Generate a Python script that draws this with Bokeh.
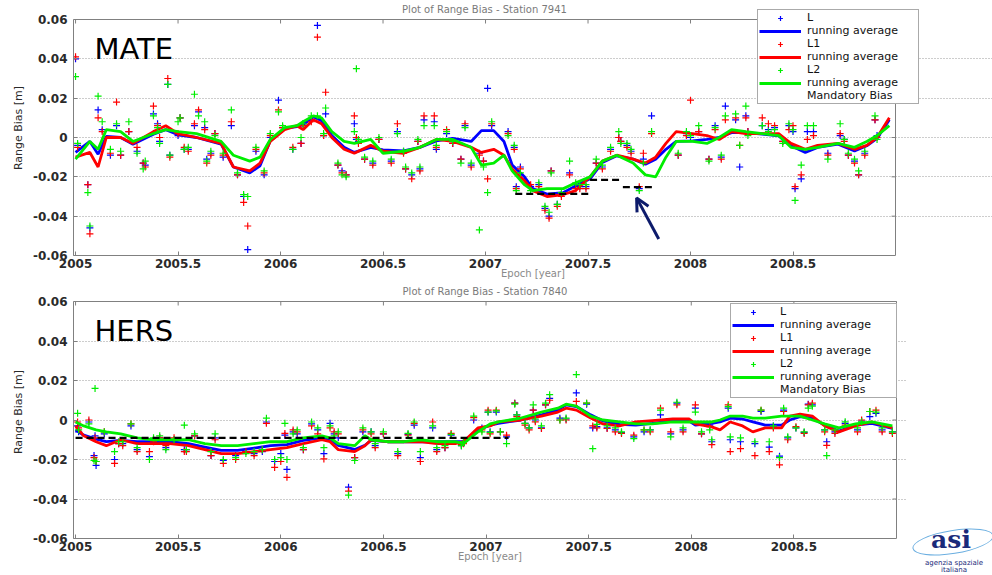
import math
from bokeh.plotting import figure
from bokeh.models import (Range1d, LinearAxis, FixedTicker, Legend, LegendItem, Label,
                          Arrow, OpenHead, CustomJSTickFormatter, Div)
from bokeh.layouts import column, row
from bokeh.embed import file_html
from bokeh.resources import INLINE

# ---------------- DATA ----------------
x_ticks = [2005, 2005.5, 2006, 2006.5, 2007, 2007.5, 2008, 2008.5]
y_ticks = [-0.06, -0.04, -0.02, 0, 0.02, 0.04, 0.06]

# Station 7941 (MATE) normal points
top_years = [2005.00, 2005.01, 2005.06, 2005.07, 2005.11, 2005.13, 2005.17, 2005.20, 2005.22, 2005.26,
             2005.30, 2005.33, 2005.34, 2005.38, 2005.40, 2005.41, 2005.45, 2005.46, 2005.50, 2005.51,
             2005.53, 2005.55, 2005.58, 2005.60, 2005.63, 2005.64, 2005.66, 2005.68, 2005.72, 2005.76,
             2005.79, 2005.82, 2005.84, 2005.88, 2005.92, 2005.95, 2005.99, 2006.01, 2006.06, 2006.10,
             2006.11, 2006.15, 2006.18, 2006.21, 2006.22, 2006.28, 2006.30, 2006.32, 2006.36, 2006.37,
             2006.38, 2006.41, 2006.45, 2006.48, 2006.54, 2006.57, 2006.60, 2006.61, 2006.64, 2006.67,
             2006.68, 2006.70, 2006.75, 2006.76, 2006.81, 2006.84, 2006.88, 2006.90, 2006.93, 2006.97,
             2006.99, 2007.01, 2007.03, 2007.11, 2007.14, 2007.15, 2007.17, 2007.22, 2007.26, 2007.29,
             2007.31, 2007.32, 2007.35, 2007.37, 2007.41, 2007.44, 2007.46, 2007.49, 2007.54, 2007.57,
             2007.61, 2007.65, 2007.66, 2007.69, 2007.71, 2007.75, 2007.77, 2007.81, 2007.94, 2007.98,
             2008.00, 2008.04, 2008.09, 2008.12, 2008.15, 2008.17, 2008.22, 2008.24, 2008.27, 2008.28,
             2008.35, 2008.38, 2008.41, 2008.45, 2008.48, 2008.50, 2008.51, 2008.54, 2008.57, 2008.60,
             2008.67, 2008.73, 2008.75, 2008.77, 2008.80, 2008.82, 2008.85, 2008.90, 2008.91]
top_L = [0.040, -0.004, -0.024, -0.046, 0.014, 0.004, -0.009, 0.006, -0.009, 0.003,
         -0.007, -0.013, -0.014, 0.012, 0.007, -0.002, 0.027, -0.009, 0.001, 0.010,
         -0.006, -0.006, 0.006, 0.013, 0.005, -0.011, -0.008, 0.002, -0.010, 0.006,
         -0.019, -0.030, -0.057, -0.007, -0.019, 0.000, 0.019, 0.005, -0.006, -0.003,
         0.007, 0.009, 0.057, 0.001, 0.012, -0.014, -0.017, -0.019, 0.007, -0.001,
         -0.002, -0.011, -0.013, -0.001, -0.012, 0.003, -0.007, -0.016, -0.019, -0.002,
         -0.016, 0.009, 0.008, -0.006, 0.002, -0.003, -0.011, 0.006, -0.014, -0.008,
         -0.012, 0.025, 0.006, 0.003, -0.005, -0.025, -0.015, -0.025, -0.024, -0.036,
         -0.040, -0.017, -0.034, -0.029, -0.018, -0.024, -0.025, -0.025, -0.013, -0.015,
         -0.006, 0.000, -0.002, -0.004, -0.007, -0.026, -0.011, 0.011, -0.009, 0.002,
         0.000, 0.003, -0.011, 0.006, -0.010, 0.016, 0.009, -0.015, 0.011, 0.003,
         0.006, 0.004, 0.005, -0.002, 0.006, 0.003, -0.026, -0.021, 0.003, 0.003,
         -0.008, 0.001, -0.001, -0.009, -0.012, -0.019, -0.008, 0.009, 0.001]
top_L1 = [0.041, -0.005, -0.024, -0.049, 0.010, 0.003, -0.008, 0.018, -0.009, 0.003,
          -0.005, -0.013, -0.015, 0.016, 0.006, 0.000, 0.030, -0.010, 0.002, 0.010,
          -0.005, -0.007, 0.007, 0.014, 0.004, -0.013, -0.009, 0.002, -0.009, 0.008,
          -0.019, -0.033, -0.045, -0.006, -0.018, 0.001, 0.014, 0.005, -0.005, -0.003,
          0.006, 0.008, 0.051, 0.001, 0.023, -0.014, -0.018, -0.019, 0.011, 0.000,
          -0.003, -0.011, -0.014, -0.001, -0.013, 0.007, -0.008, -0.016, -0.021, -0.002,
          -0.017, 0.011, 0.011, -0.005, 0.004, -0.003, -0.011, 0.007, -0.015, -0.009,
          -0.012, -0.021, 0.007, 0.002, -0.006, -0.026, -0.016, -0.024, -0.025, -0.037,
          -0.041, -0.017, -0.035, -0.030, -0.019, -0.026, -0.026, -0.026, -0.013, -0.016,
          -0.007, 0.000, -0.002, -0.005, -0.008, -0.025, -0.008, 0.002, -0.009, 0.001,
          0.019, 0.003, -0.011, 0.004, -0.011, 0.009, 0.010, -0.004, 0.010, 0.003,
          0.010, 0.007, 0.006, -0.002, 0.004, 0.006, -0.025, -0.019, -0.001, 0.001,
          -0.009, 0.002, -0.002, -0.009, -0.013, -0.019, -0.009, 0.009, 0.000]
top_L2 = [0.031, -0.003, -0.028, -0.045, 0.021, 0.008, -0.006, 0.007, -0.007, 0.008,
          -0.008, -0.016, -0.012, 0.011, 0.005, -0.003, 0.027, -0.009, 0.008, 0.010,
          -0.006, -0.005, 0.022, 0.011, 0.008, -0.012, -0.007, 0.001, -0.008, 0.014,
          -0.018, -0.029, -0.030, -0.005, -0.017, 0.002, 0.013, 0.006, -0.006, 0.000,
          0.007, 0.011, 0.011, 0.002, 0.015, -0.013, -0.019, -0.020, 0.003, 0.035,
          -0.001, -0.010, -0.012, 0.000, -0.011, 0.002, -0.007, -0.015, -0.018, -0.001,
          -0.015, 0.006, 0.006, -0.004, 0.003, -0.002, -0.013, 0.005, -0.013, -0.047,
          -0.015, -0.028, 0.008, 0.001, -0.004, -0.027, -0.018, -0.027, -0.023, -0.035,
          -0.038, -0.018, -0.034, -0.028, -0.012, -0.023, -0.024, -0.024, -0.011, -0.014,
          -0.005, 0.003, -0.003, -0.003, -0.006, -0.027, -0.013, 0.003, -0.008, 0.003,
          0.001, 0.006, -0.012, 0.005, -0.009, 0.011, 0.012, -0.004, 0.016, 0.001,
          0.006, 0.003, 0.004, -0.003, 0.007, 0.004, -0.032, -0.014, 0.006, 0.006,
          -0.011, 0.007, -0.001, -0.008, -0.011, -0.017, -0.007, 0.011, -0.001]

top_ra_years = [2005.00, 2005.07, 2005.11, 2005.15, 2005.22, 2005.28, 2005.38, 2005.44, 2005.50, 2005.59,
                2005.71, 2005.77, 2005.85, 2005.90, 2005.95, 2006.02, 2006.08, 2006.11, 2006.16, 2006.20,
                2006.25, 2006.31, 2006.36, 2006.44, 2006.50, 2006.60, 2006.68, 2006.76, 2006.84, 2006.93,
                2006.98, 2007.04, 2007.09, 2007.13, 2007.19, 2007.23, 2007.30, 2007.38, 2007.44, 2007.51,
                2007.57, 2007.64, 2007.72, 2007.78, 2007.83, 2007.88, 2007.93, 2008.01, 2008.08, 2008.14,
                2008.20, 2008.27, 2008.35, 2008.43, 2008.49, 2008.56, 2008.62, 2008.72, 2008.80, 2008.86,
                2008.91, 2008.97]
top_ra_L = [-0.0076, -0.002, -0.0085, 0.0005, 0.0, -0.0034, 0.0017, 0.004, 0.0014, 0.0,
            -0.0034, -0.015, -0.018, -0.0144, -0.0017, 0.0046, 0.0055, 0.0065, 0.0105, 0.0085,
            0.001, -0.005, -0.0076, -0.005, -0.0063, -0.0068, -0.005, -0.0017, -0.0005, -0.002,
            0.0035, 0.0035, -0.002, -0.014, -0.020, -0.026, -0.0288, -0.028, -0.0246, -0.021,
            -0.0127, -0.0093, -0.011, -0.0136, -0.011, -0.006, -0.002, -0.0017, -0.001, 0.0,
            0.0025, 0.0025, 0.0017, 0.0008, -0.0042, -0.0076, -0.005, -0.0034, -0.0068, -0.0042,
            -0.0005, 0.009]
top_ra_L1 = [-0.010, -0.0076, -0.015, 0.0, 0.0, -0.003, 0.003, 0.006, 0.002, 0.0,
             -0.003, -0.015, -0.017, -0.013, -0.002, 0.004, 0.006, 0.004, 0.009, 0.007,
             0.0, -0.006, -0.008, -0.004, -0.007, -0.008, -0.005, -0.001, -0.002, -0.005,
             -0.0076, -0.006, -0.009, -0.016, -0.022, -0.027, -0.030, -0.029, -0.027, -0.020,
             -0.012, -0.009, -0.011, -0.013, -0.010, -0.003, 0.003, 0.002, 0.001, -0.001,
             0.003, 0.002, 0.002, 0.002, -0.003, -0.006, -0.004, -0.003, -0.006, -0.004,
             0.0, 0.010]
top_ra_L2 = [-0.011, -0.002, -0.006, 0.004, 0.003, -0.002, 0.002, 0.004, 0.003, 0.002,
             -0.002, -0.009, -0.012, -0.010, -0.001, 0.005, 0.006, 0.008, 0.011, 0.010,
             0.003, -0.002, -0.003, -0.001, -0.008, -0.007, -0.005, -0.001, -0.001, -0.005,
             -0.014, -0.013, -0.009, -0.017, -0.024, -0.027, -0.026, -0.026, -0.023, -0.020,
             -0.012, -0.009, -0.013, -0.019, -0.020, -0.010, -0.002, -0.002, -0.003, 0.0,
             0.004, 0.003, 0.002, 0.001, -0.005, -0.006, -0.005, -0.003, -0.005, -0.002,
             0.001, 0.006]
top_bias_start = [2007.145, 2007.51, 2007.67]
top_bias_end = [2007.51, 2007.66, 2007.82]
top_bias_value = [-0.0287, -0.0215, -0.0252]

# Station 7840 (HERS) normal points
bot_years = [2005.01, 2005.015, 2005.065, 2005.09, 2005.095, 2005.10, 2005.14, 2005.19, 2005.21, 2005.23,
             2005.27, 2005.30, 2005.36, 2005.38, 2005.41, 2005.44, 2005.48, 2005.53, 2005.54, 2005.58,
             2005.66, 2005.68, 2005.72, 2005.78, 2005.83, 2005.87, 2005.91, 2005.93, 2005.97, 2006.00,
             2006.02, 2006.03, 2006.06, 2006.08, 2006.11, 2006.15, 2006.18, 2006.21, 2006.24, 2006.26,
             2006.28, 2006.33, 2006.36, 2006.40, 2006.44, 2006.46, 2006.50, 2006.57, 2006.62, 2006.65,
             2006.68, 2006.74, 2006.76, 2006.80, 2006.83, 2006.88, 2006.89, 2006.94, 2006.98, 2007.01,
             2007.02, 2007.05, 2007.07, 2007.10, 2007.14, 2007.15, 2007.19, 2007.21, 2007.23, 2007.24,
             2007.27, 2007.29, 2007.31, 2007.36, 2007.39, 2007.44, 2007.49, 2007.52, 2007.54, 2007.59,
             2007.63, 2007.66, 2007.72, 2007.77, 2007.80, 2007.85, 2007.90, 2007.93, 2007.96, 2008.02,
             2008.05, 2008.09, 2008.10, 2008.18, 2008.19, 2008.24, 2008.31, 2008.34, 2008.38, 2008.40,
             2008.43, 2008.45, 2008.47, 2008.51, 2008.55, 2008.57, 2008.59, 2008.65, 2008.66, 2008.70,
             2008.75, 2008.81, 2008.83, 2008.87, 2008.90, 2008.93, 2008.98]
bot_L = [-0.003, -0.006, -0.001, -0.018, -0.008, -0.023, -0.007, -0.020, -0.012, -0.012,
         -0.003, -0.015, -0.0185, -0.010, -0.009, -0.014, -0.010, -0.015, -0.015, -0.008,
         -0.018, -0.009, -0.0205, -0.018, -0.016, -0.017, -0.016, -0.001, -0.021, -0.017,
         -0.0077, -0.025, -0.006, -0.007, -0.015, -0.002, -0.005, -0.017, -0.0017, -0.007,
         -0.009, -0.034, -0.019, -0.006, -0.006, -0.013, -0.007, -0.017, -0.0073, -0.0026,
         -0.019, -0.004, -0.015, -0.014, -0.0077, -0.013, -0.011, 0.000, -0.004, 0.004,
         -0.006, 0.004, -0.006, -0.0085, 0.0085, 0.0026, -0.0017, -0.004, 0.005, 0.000,
         -0.004, 0.0077, 0.011, 0.0009, 0.0005, 0.0137, 0.008, -0.004, -0.0034, -0.004,
         -0.005, -0.0064, -0.0085, -0.006, -0.005, 0.0026, -0.007, 0.0085, -0.005, 0.006,
         -0.007, -0.0026, -0.011, 0.006, -0.010, -0.011, -0.012, 0.0043, -0.0137, -0.003,
         -0.0183, 0.005, -0.009, -0.004, -0.0063, 0.008, 0.0077, -0.005, -0.011, -0.006,
         -0.0017, -0.005, -0.0005, 0.0017, 0.0034, -0.005, -0.006]
bot_L1 = [-0.001, -0.004, 0.000, -0.019, -0.009, -0.021, -0.006, -0.022, -0.012, -0.013,
          -0.002, -0.016, -0.016, -0.011, -0.009, -0.013, -0.009, -0.016, -0.016, -0.008,
          -0.018, -0.010, -0.022, -0.020, -0.016, -0.018, -0.015, -0.0017, -0.024, -0.021,
          -0.0068, -0.029, -0.005, -0.006, -0.015, -0.003, -0.007, -0.0197, -0.004, -0.006,
          -0.007, -0.036, -0.019, -0.005, -0.007, -0.014, -0.007, -0.018, -0.0077, -0.0017,
          -0.021, -0.001, -0.016, -0.014, -0.0068, -0.0125, -0.012, 0.0012, -0.005, 0.005,
          -0.007, 0.005, -0.006, -0.0077, 0.0085, 0.0017, -0.0026, -0.005, 0.005, -0.0009,
          -0.0043, 0.0077, 0.010, 0.000, 0.000, 0.0094, 0.0085, -0.003, -0.004, -0.0043,
          -0.006, -0.0068, -0.0077, -0.005, -0.006, 0.006, -0.006, 0.0077, -0.006, 0.0077,
          -0.007, -0.0034, -0.0125, 0.0077, -0.016, -0.0145, -0.018, 0.005, -0.016, -0.004,
          -0.0227, 0.0043, -0.010, -0.0034, -0.0068, 0.0077, 0.0085, -0.006, -0.0128, -0.0068,
          -0.0026, -0.006, 0.000, 0.0043, 0.005, -0.006, -0.0068]
bot_L2 = [0.0034, -0.005, -0.002, -0.0205, 0.016, -0.021, -0.006, -0.016, -0.011, -0.011,
          -0.002, -0.014, -0.020, -0.009, -0.008, -0.015, -0.010, -0.0026, -0.015, -0.007,
          -0.016, -0.007, -0.020, -0.019, -0.017, -0.016, -0.015, 0.0009, -0.020, -0.019,
          -0.0017, -0.020, -0.007, -0.005, -0.014, -0.001, -0.004, -0.014, -0.003, -0.008,
          -0.006, -0.038, -0.0205, -0.004, -0.006, -0.012, -0.006, -0.016, -0.0068, -0.001,
          -0.016, -0.003, -0.014, -0.013, -0.0073, -0.013, -0.011, 0.002, -0.006, 0.004,
          -0.0063, 0.0046, -0.006, -0.012, 0.008, 0.0026, -0.0017, -0.004, 0.0077, 0.0005,
          -0.003, 0.0085, 0.0128, 0.000, 0.001, 0.023, 0.0085, -0.0145, -0.0022, -0.003,
          -0.004, -0.006, -0.0094, -0.005, -0.005, 0.005, -0.0085, 0.009, -0.004, 0.004,
          -0.006, -0.005, -0.010, 0.0068, -0.0085, -0.009, -0.011, 0.005, -0.011, -0.003,
          -0.019, 0.006, -0.0085, -0.004, -0.006, 0.006, 0.007, -0.005, -0.018, -0.005,
          -0.0009, -0.004, -0.0009, 0.0043, 0.004, -0.004, -0.006]

bot_ra_years = [2005.00, 2005.04, 2005.10, 2005.15, 2005.22, 2005.30, 2005.38, 2005.46, 2005.55, 2005.63,
                2005.71, 2005.79, 2005.87, 2005.95, 2006.03, 2006.11, 2006.20, 2006.24, 2006.28, 2006.36,
                2006.41, 2006.44, 2006.52, 2006.60, 2006.68, 2006.76, 2006.85, 2006.89, 2006.96, 2007.02,
                2007.06, 2007.17, 2007.27, 2007.35, 2007.39, 2007.44, 2007.51, 2007.57, 2007.65, 2007.73,
                2007.81, 2007.91, 2007.99, 2008.02, 2008.10, 2008.14, 2008.19, 2008.25, 2008.30, 2008.36,
                2008.44, 2008.48, 2008.53, 2008.59, 2008.65, 2008.72, 2008.80, 2008.88, 2008.98]
bot_ra_L = [-0.005, -0.0077, -0.0097, -0.011, -0.0103, -0.011, -0.011, -0.011, -0.012, -0.0137,
            -0.0154, -0.0154, -0.0142, -0.013, -0.0125, -0.0103, -0.009, -0.0097, -0.0128, -0.0149,
            -0.0128, -0.0103, -0.011, -0.011, -0.011, -0.011, -0.011, -0.011, -0.005, -0.0026,
            -0.0017, 0.0, 0.0026, 0.005, 0.0077, 0.0068, 0.0026, -0.0005, -0.0022, -0.0026,
            -0.0017, -0.0005, -0.0005, -0.0026, -0.0017, -0.001, 0.0009, 0.0005, -0.0009, -0.0026,
            -0.0026, 0.0, 0.0017, 0.0009, -0.0026, -0.0056, -0.0026, -0.0017, -0.0043]
bot_ra_L1 = [-0.003, -0.008, -0.011, -0.013, -0.010, -0.012, -0.012, -0.012, -0.013, -0.015,
             -0.017, -0.017, -0.016, -0.015, -0.014, -0.012, -0.010, -0.011, -0.015, -0.016,
             -0.013, -0.010, -0.011, -0.011, -0.011, -0.012, -0.012, -0.011, -0.004, -0.003,
             -0.001, 0.000, 0.002, 0.004, 0.006, 0.005, 0.001, -0.002, -0.003, -0.001,
             -0.0003, 0.0005, 0.0005, -0.002, -0.0035, -0.005, -0.001, -0.003, -0.006, -0.004,
             -0.004, 0.002, 0.003, 0.002, -0.003, -0.006, -0.003, -0.001, -0.004]
bot_ra_L2 = [-0.001, -0.003, -0.005, -0.006, -0.007, -0.009, -0.010, -0.010, -0.010, -0.012,
             -0.013, -0.013, -0.012, -0.011, -0.011, -0.009, -0.008, -0.009, -0.012, -0.013,
             -0.008, -0.010, -0.011, -0.011, -0.010, -0.011, -0.011, -0.012, -0.006, -0.002,
             -0.001, 0.001, 0.004, 0.006, 0.008, 0.007, 0.002, 0.000, -0.001, -0.002,
             -0.002, -0.001, -0.001, -0.001, -0.001, 0.000, 0.002, 0.002, 0.001, 0.001,
             0.002, 0.002, 0.002, 0.000, -0.002, -0.004, -0.002, -0.001, -0.003]
bot_bias_start = [2005.0]
bot_bias_end = [2007.11]
bot_bias_value = [-0.009]

series_labels = ["L", "running average", "L1", "running average", "L2", "running average", "Mandatory Bias"]
titles = ["Plot of Range Bias - Station 7941", "Plot of Range Bias - Station 7840"]
station_names = ["MATE", "HERS"]
logo_lines = ["asi", "agenzia spaziale", "italiana"]

# ---------------- STYLE ----------------
BLUE, RED, GREEN = "#0000ff", "#ff0000", "#00ee00"
BOX = "#808080"
X0, X1 = 2004.99, 2009.0
Y0, Y1 = -0.06, 0.06


def style_axis(ax):
    ax.major_tick_in = 4
    ax.major_tick_out = 0
    ax.minor_tick_line_color = None
    ax.axis_line_color = BOX
    ax.major_tick_line_color = BOX
    ax.major_label_text_font = "DejaVu Sans"
    ax.major_label_text_font_style = "bold"
    ax.major_label_text_font_size = "12px"
    ax.major_label_text_color = "#2a2a2a"
    ax.axis_label_text_font = "DejaVu Sans"
    ax.axis_label_text_font_style = "normal"


def make_panel(name, title, years, L, L1, L2, ra_years, raL, raL1, raL2,
               b_start, b_end, b_val, width, height, border_bottom,
               box_w, box_h, ext_top, ext_right, legend_loc, legend_dash, legend_label_w):
    # the frame reaches past the plot box (top/right) so the legend may overlap the box edge
    xr = Range1d(X0, X1 + ext_right * (X1 - X0) / box_w)
    yr = Range1d(Y0, Y1 + ext_top * (Y1 - Y0) / box_h)
    p = figure(width=width, height=height, output_backend="svg", toolbar_location=None,
               title=None, x_range=xr, y_range=yr,
               min_border_left=73, min_border_right=0, min_border_top=0,
               min_border_bottom=border_bottom, x_axis_location=None, y_axis_location=None)
    p.background_fill_color = "white"
    p.border_fill_color = "white"
    p.outline_line_color = None

    xfmt = CustomJSTickFormatter(code="return (Math.abs(tick - Math.round(tick)) < 1e-9) ? tick.toFixed(0) : tick.toFixed(1);")
    yfmt = CustomJSTickFormatter(code="return (Math.abs(tick) < 1e-9) ? '0' : tick.toFixed(2);")

    xb = LinearAxis(ticker=FixedTicker(ticks=x_ticks), formatter=xfmt, bounds=(X0, X1))
    style_axis(xb)
    xb.major_label_standoff = 3
    xb.axis_label = "Epoch [year]"
    xb.axis_label_standoff = -3
    xb.axis_label_text_font_size = "10px"
    xb.axis_label_text_color = "#8a8a8a"
    p.add_layout(xb, "below")

    yl = LinearAxis(ticker=FixedTicker(ticks=y_ticks), formatter=yfmt, bounds=(Y0, Y1))
    style_axis(yl)
    yl.major_label_standoff = 6
    yl.axis_label = "Range Bias [m]"
    yl.axis_label_standoff = 5
    yl.axis_label_text_font_size = "11px"
    yl.axis_label_text_color = "#2a2a2a"
    p.add_layout(yl, "left")

    # top and right edges of the box with inward ticks
    p.segment(x0=[X0, X1], y0=[Y1, Y0], x1=[X1, X1], y1=[Y1, Y1], line_color=BOX, line_width=1)
    p.ray(x=x_ticks, y=[Y1] * len(x_ticks), length=4, length_units="screen",
          angle=-math.pi / 2, line_color=BOX, line_width=1)
    p.ray(x=[X1] * len(y_ticks), y=y_ticks, length=4, length_units="screen",
          angle=math.pi, line_color=BOX, line_width=1)

    p.xgrid.visible = False
    p.ygrid.ticker = FixedTicker(ticks=[-0.04, -0.02, 0, 0.02, 0.04])
    p.ygrid.bounds = (X0, X1)
    p.ygrid.grid_line_color = "#9a9a9a"
    p.ygrid.grid_line_dash = "1 2"
    p.ygrid.grid_line_width = 1

    sL = p.scatter(years, L, marker="cross", size=7, line_color=BLUE, line_width=1.2)
    rL = p.line(ra_years, raL, line_color=BLUE, line_width=2.8)
    sL1 = p.scatter(years, L1, marker="cross", size=7, line_color=RED, line_width=1.2)
    rL1 = p.line(ra_years, raL1, line_color=RED, line_width=2.8)
    sL2 = p.scatter(years, L2, marker="cross", size=7, line_color=GREEN, line_width=1.2)
    rL2 = p.line(ra_years, raL2, line_color=GREEN, line_width=2.8)
    p.segment(x0=b_start, y0=b_val, x1=b_end, y1=b_val, line_color="black",
              line_width=2.2, line_dash="7 4")
    rB = p.line([], [], line_color="black", line_width=2, line_dash=legend_dash)

    legend = Legend(items=[LegendItem(label=series_labels[0], renderers=[sL]),
                           LegendItem(label=series_labels[1], renderers=[rL]),
                           LegendItem(label=series_labels[2], renderers=[sL1]),
                           LegendItem(label=series_labels[3], renderers=[rL1]),
                           LegendItem(label=series_labels[4], renderers=[sL2]),
                           LegendItem(label=series_labels[5], renderers=[rL2]),
                           LegendItem(label=series_labels[6], renderers=[rB])],
                    location=legend_loc)
    legend.label_text_font = "DejaVu Sans"
    legend.label_text_font_size = "11px"
    legend.label_text_color = "#111111"
    legend.label_height = 12
    legend.label_width = legend_label_w
    legend.glyph_height = 12
    legend.glyph_width = 42
    legend.label_standoff = 6
    legend.spacing = 0
    legend.padding = 1
    legend.margin = 0
    legend.border_line_color = "#555555"
    legend.border_line_width = 1
    legend.background_fill_color = "white"
    legend.background_fill_alpha = 1
    p.add_layout(legend)

    p.add_layout(Label(x=(X0 + X1) / 2, y=Y1, y_offset=10, text=title, text_align="center",
                       text_baseline="middle", text_font="DejaVu Sans", text_font_size="10px",
                       text_color="#7a7a7a"))
    p.add_layout(Label(x=X0, x_offset=21, y=Y1, y_offset=-29, text=name,
                       text_align="left", text_baseline="alphabetic", text_font="DejaVu Sans",
                       text_font_size="29px", text_color="black"))
    return p


top = make_panel(station_names[0], titles[0], top_years, top_L, top_L1, top_L2,
                 top_ra_years, top_ra_L, top_ra_L1, top_ra_L2,
                 top_bias_start, top_bias_end, top_bias_value,
                 width=992, height=285, border_bottom=30, box_w=822, box_h=236,
                 ext_top=19, ext_right=97, legend_loc=(684, 151), legend_dash="2 2",
                 legend_label_w=110)
top.add_layout(Arrow(end=OpenHead(size=13, line_color="#0d1b6b", line_width=3),
                     x_start=2007.845, y_start=-0.0516, x_end=2007.737, y_end=-0.0307,
                     line_color="#0d1b6b", line_width=3))

bottom = make_panel(station_names[1], titles[1], bot_years, bot_L, bot_L1, bot_L2,
                    bot_ra_years, bot_ra_L, bot_ra_L1, bot_ra_L2,
                    bot_bias_start, bot_bias_end, bot_bias_value,
                    width=906, height=290, border_bottom=37, box_w=823, box_h=237,
                    ext_top=16, ext_right=10, legend_loc=(657, 140), legend_dash="6 3",
                    legend_label_w=115)

logo_html = (
    '<div style="position:relative;width:86px;height:290px;overflow:hidden;">'
    '<div style="position:absolute;left:1px;top:240px;width:82px;height:24px;'
    'border:1.3px solid #6aaee0;border-radius:50%;transform:rotate(-9deg);"></div>'
    '<div style="position:absolute;left:-3px;top:236px;width:86px;text-align:center;'
    'font-family:\'DejaVu Serif\';font-weight:bold;font-size:25px;line-height:28px;color:#1a2a7a;">'
    + logo_lines[0] + '</div>'
    '<div style="position:absolute;left:0;top:270px;width:86px;text-align:center;'
    'font-family:\'DejaVu Sans\';font-size:7px;line-height:7px;color:#1a2a7a;">'
    + logo_lines[1] + '<br>' + logo_lines[2] + '</div>'
    '</div>'
)
logo = Div(text=logo_html, width=86, height=290)

layout = column(top, row(bottom, logo, spacing=0), spacing=0)
open("out.html", "w").write(file_html(layout, INLINE))
